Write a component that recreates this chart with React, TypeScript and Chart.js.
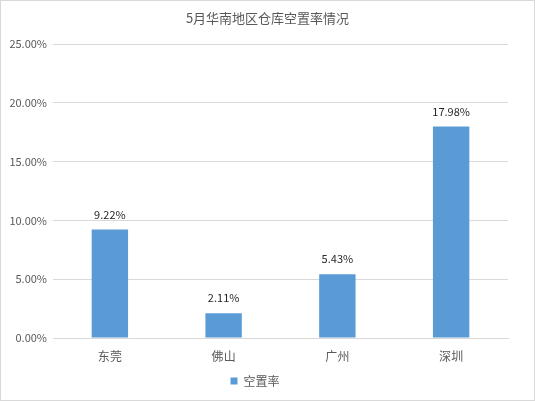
import { useEffect, useRef } from 'react';
import Chart from 'chart.js/auto';

const cities = ['东莞', '佛山', '广州', '深圳'];
const vacancyRates = [9.22, 2.11, 5.43, 17.98];
const seriesName = '空置率';
const chartTitle = '5月华南地区仓库空置率情况';

const FONT = '"Noto Sans CJK SC", "Microsoft YaHei", sans-serif';

// draws the value over each bar and the title at the top
const labelPlugin = {
  id: 'barLabels',
  afterDatasetsDraw(chart: any) {
    const ctx = chart.ctx;
    ctx.save();
    ctx.font = `11px ${FONT}`;
    ctx.fillStyle = '#262626';
    ctx.textAlign = 'center';
    ctx.textBaseline = 'middle';
    const meta = chart.getDatasetMeta(0);
    meta.data.forEach((bar: any, i: number) => {
      ctx.fillText(vacancyRates[i].toFixed(2) + '%', bar.x, bar.y - 15);
    });
    ctx.font = `13px ${FONT}`;
    ctx.fillStyle = '#595959';
    ctx.fillText(chartTitle, chart.width / 2, 17);
    ctx.restore();
  },
};

const App = () => {
  const canvasRef = useRef<HTMLCanvasElement | null>(null);
  const chartRef = useRef<Chart | null>(null);

  useEffect(() => {
    document.body.style.margin = '0';
    if (!canvasRef.current) return;
    if (chartRef.current) chartRef.current.destroy();

    chartRef.current = new Chart(canvasRef.current, {
      type: 'bar',
      data: {
        labels: cities,
        datasets: [{
          label: seriesName,
          data: vacancyRates,
          backgroundColor: '#5b9bd5',
          barPercentage: 0.32,
          categoryPercentage: 1,
        }],
      },
      options: {
        animation: false,
        responsive: false,
        layout: { padding: { top: 43, right: 26, left: 1, bottom: 3 } },
        plugins: {
          title: { display: false },
          tooltip: { enabled: false },
          legend: {
            position: 'bottom',
            labels: {
              boxWidth: 7,
              boxHeight: 7,
              color: '#595959',
              font: { family: FONT, size: 12 },
              padding: 8,
            },
          },
        },
        scales: {
          x: {
            grid: { display: false },
            border: { color: '#d9d9d9' },
            ticks: { color: '#595959', font: { family: FONT, size: 12 }, padding: 3 },
            afterFit: (scale: any) => { scale.height = 29; },
          },
          y: {
            min: 0,
            max: 25,
            ticks: {
              stepSize: 5,
              color: '#595959',
              font: { family: FONT, size: 11 },
              padding: 6,
              callback: (v: any) => Number(v).toFixed(2) + '%',
            },
            grid: { color: '#d9d9d9', drawTicks: false },
            border: { display: false },
            afterFit: (scale: any) => { scale.width = 51; },
          },
        },
      },
      plugins: [labelPlugin],
    });

    return () => {
      if (chartRef.current) chartRef.current.destroy();
      chartRef.current = null;
    };
  }, []);

  return (
    <div style={{ width: 535, height: 401, border: '1px solid #d9d9d9', boxSizing: 'border-box', background: '#fff' }}>
      <canvas ref={canvasRef} width={533} height={399} style={{ display: 'block' }} />
    </div>
  );
};

export default App;
